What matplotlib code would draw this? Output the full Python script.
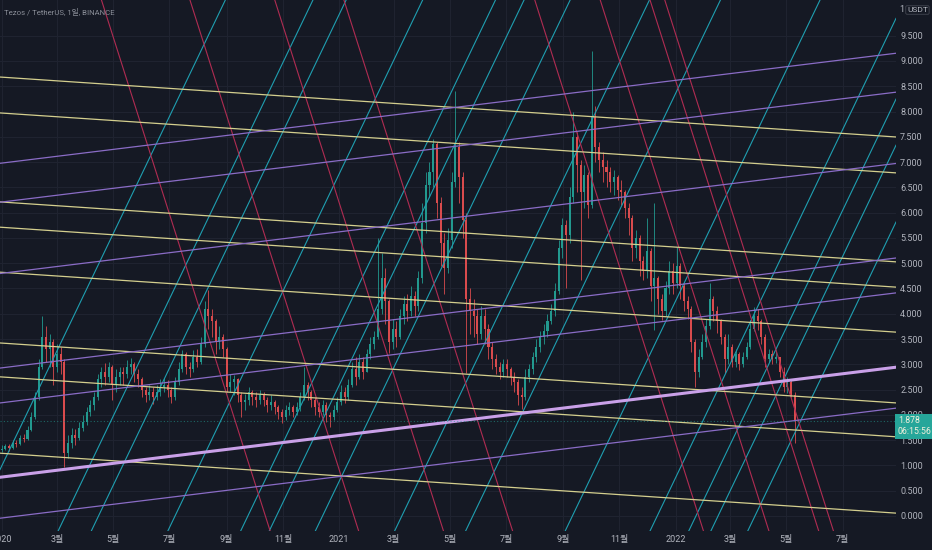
import matplotlib
matplotlib.use('Agg')
import matplotlib.pyplot as plt
import numpy as np
import pandas as pd

plt.rcParams['font.family'] = ['Roboto', 'Noto Sans CJK KR', 'DejaVu Sans']

# XTZ/USDT, 4-day candles starting 2020-01-01 (open = previous close)
first_open = 1.30
closes = [
    1.33, 1.38, 1.35, 1.45, 1.42, 1.55, 1.52, 1.70, 1.95, 2.35,
    2.95, 3.55, 3.30, 3.45, 2.95, 3.20, 3.05, 1.25, 1.45, 1.60,
    1.55, 1.75, 1.85, 2.05, 2.20, 2.35, 2.70, 2.85, 2.75, 2.95,
    2.60, 2.75, 2.85, 2.80, 2.95, 3.00, 2.80, 2.70, 2.50, 2.40,
    2.45, 2.35, 2.45, 2.55, 2.60, 2.50, 2.35, 2.65, 2.90, 3.20,
    2.95, 2.90, 3.15, 3.05, 3.40, 4.10, 3.95, 3.85, 3.45, 3.55,
    3.30, 2.55, 2.65, 2.70, 2.40, 2.25, 2.30, 2.45, 2.35, 2.30,
    2.40, 2.30, 2.20, 2.25, 2.15, 2.05, 1.95, 2.10, 2.15, 2.05,
    2.15, 2.35, 2.60, 2.45, 2.30, 2.15, 2.05, 2.20, 2.00, 1.95,
    2.10, 2.25, 2.45, 2.35, 2.60, 2.90, 2.75, 3.05, 2.85, 3.20,
    3.40, 3.55, 4.10, 4.70, 4.25, 3.45, 3.70, 3.55, 3.95, 4.20,
    4.05, 4.35, 4.15, 4.70, 5.80, 6.55, 6.80, 7.35, 6.20, 5.40,
    4.90, 5.45, 6.60, 7.30, 6.70, 5.85, 4.30, 4.05, 3.95, 3.60,
    3.95, 3.70, 3.35, 3.10, 2.95, 2.85, 3.00, 2.90, 2.75, 2.65,
    2.40, 2.35, 2.75, 2.90, 3.15, 3.35, 3.55, 3.65, 3.85, 4.05,
    4.45, 5.30, 5.75, 5.55, 6.30, 7.50, 6.95, 6.40, 6.75, 6.15,
    7.90, 7.30, 7.05, 6.90, 6.80, 6.60, 6.70, 6.45, 6.40, 6.10,
    5.90, 5.30, 5.50, 5.05, 4.85, 5.25, 4.55, 4.70, 4.30, 4.05,
    4.50, 4.85, 4.60, 4.95, 4.55, 4.25, 4.10, 3.45, 2.85, 3.15,
    3.45, 3.75, 4.30, 4.05, 3.85, 3.55, 3.10, 3.35, 3.05, 3.20,
    3.00, 3.15, 3.35, 3.70, 3.95, 3.85, 3.55, 3.10, 3.20, 3.10,
    3.15, 2.85, 2.55, 2.65, 2.40, 1.878,
]
highs = [
    1.40, 1.42, 1.42, 1.50, 1.50, 1.60, 1.62, 1.78, 2.05, 2.45,
    3.10, 3.95, 3.75, 3.60, 3.50, 3.40, 3.35, 3.10, 1.60, 1.75,
    1.72, 1.85, 2.00, 2.15, 2.30, 2.45, 2.80, 2.95, 3.02, 3.05,
    2.98, 2.90, 2.95, 2.95, 3.08, 3.12, 3.05, 2.90, 2.75, 2.55,
    2.60, 2.55, 2.60, 2.70, 2.72, 2.68, 2.55, 2.75, 3.05, 3.28,
    3.25, 3.05, 3.28, 3.30, 3.55, 4.25, 4.47, 4.10, 3.90, 3.75,
    3.60, 3.35, 2.80, 2.78, 2.72, 2.45, 2.42, 2.55, 2.50, 2.45,
    2.50, 2.45, 2.35, 2.40, 2.30, 2.20, 2.12, 2.20, 2.25, 2.20,
    2.25, 2.45, 2.95, 2.65, 2.50, 2.35, 2.25, 2.30, 2.25, 2.05,
    2.20, 2.35, 2.60, 2.55, 2.70, 3.05, 3.15, 3.20, 3.15, 3.30,
    3.55, 3.65, 5.50, 5.20, 4.90, 4.30, 3.90, 3.85, 4.10, 4.35,
    4.40, 4.55, 4.45, 4.85, 6.20, 6.80, 7.00, 7.45, 7.40, 6.30,
    5.60, 5.70, 6.80, 8.40, 7.40, 6.80, 6.00, 4.50, 4.30, 4.10,
    4.15, 4.10, 3.80, 3.45, 3.20, 3.05, 3.10, 3.10, 2.95, 2.85,
    2.70, 2.55, 2.90, 3.00, 3.25, 3.50, 3.65, 3.80, 4.00, 4.20,
    4.60, 5.45, 5.90, 5.85, 6.50, 8.00, 7.60, 7.05, 6.95, 6.80,
    9.20, 8.10, 7.40, 7.20, 7.05, 6.90, 6.85, 6.75, 6.65, 6.45,
    6.20, 5.95, 5.65, 5.55, 5.15, 5.90, 5.30, 6.20, 4.75, 4.40,
    4.65, 5.05, 5.00, 5.32, 5.00, 4.60, 4.35, 4.15, 3.50, 3.30,
    3.60, 3.90, 4.60, 4.35, 4.15, 3.90, 3.60, 3.60, 3.40, 3.30,
    3.25, 3.25, 3.45, 3.88, 4.13, 4.10, 3.90, 3.60, 3.30, 3.28,
    3.28, 3.15, 2.95, 2.75, 2.69, 2.45,
]
lows = [
    1.27, 1.30, 1.29, 1.33, 1.36, 1.40, 1.46, 1.50, 1.68, 1.92,
    2.30, 2.90, 3.05, 2.95, 2.60, 2.85, 2.80, 0.97, 1.15, 1.35,
    1.40, 1.50, 1.68, 1.80, 1.98, 2.10, 2.30, 2.55, 2.60, 2.65,
    2.30, 2.45, 2.60, 2.60, 2.72, 2.80, 2.65, 2.55, 2.35, 2.25,
    2.30, 2.22, 2.30, 2.38, 2.45, 2.35, 2.24, 2.30, 2.60, 2.85,
    2.80, 2.75, 2.85, 2.95, 3.00, 3.35, 3.70, 3.55, 3.20, 3.30,
    3.15, 2.45, 2.45, 2.40, 2.25, 1.96, 2.10, 2.20, 2.20, 2.15,
    2.22, 2.18, 2.05, 2.10, 2.02, 1.92, 1.84, 1.90, 2.00, 1.95,
    2.00, 2.08, 2.30, 2.30, 2.15, 2.00, 1.95, 2.00, 1.85, 1.76,
    1.90, 2.05, 2.20, 2.24, 2.30, 2.55, 2.60, 2.70, 2.70, 2.85,
    3.10, 3.30, 3.50, 4.00, 3.80, 3.22, 3.30, 3.35, 3.50, 3.80,
    3.85, 3.95, 3.95, 4.05, 4.60, 5.60, 6.30, 6.50, 5.90, 4.95,
    4.40, 4.80, 5.30, 6.50, 6.20, 5.50, 2.83, 3.60, 3.55, 3.40,
    3.50, 3.40, 3.10, 2.90, 2.80, 2.70, 2.75, 2.75, 2.60, 2.45,
    2.20, 2.12, 2.30, 2.65, 2.80, 3.05, 3.25, 3.40, 3.55, 3.80,
    3.95, 4.40, 5.10, 4.50, 5.40, 6.20, 6.40, 4.67, 6.10, 5.90,
    6.10, 7.00, 6.80, 6.60, 6.50, 6.40, 6.35, 6.25, 6.15, 5.90,
    5.55, 5.05, 5.10, 4.75, 4.67, 4.70, 4.25, 3.68, 4.00, 3.88,
    3.95, 4.40, 4.40, 4.50, 4.30, 4.05, 3.90, 3.25, 2.55, 2.75,
    3.10, 3.35, 3.70, 3.85, 3.62, 3.40, 2.83, 3.00, 2.95, 2.95,
    2.89, 2.95, 3.10, 3.30, 3.65, 3.68, 3.40, 2.95, 3.05, 3.00,
    3.03, 2.75, 2.45, 2.43, 2.35, 1.44,
]
candle_step_days = 4
last_price = 1.878
countdown = '06:15:56'

# drawn lines: each family is parallel, slope in USDT per day
cyan_slope = 0.0380
cyan_zero_dates = ['2019-12-06', '2020-03-10', '2020-04-15', '2020-07-07',
                   '2020-09-24', '2020-10-25', '2020-12-14', '2021-03-10',
                   '2021-05-26', '2021-09-11', '2021-12-12', '2022-01-23',
                   '2022-02-16', '2022-03-28']
red_slope = -0.0574
red_zero_dates = ['2020-10-13', '2021-01-17', '2021-04-19', '2021-07-03',
                  '2022-01-26', '2022-04-07', '2022-05-31', '2022-06-16']
yellow_slope = -0.00122
yellow_at_start = [8.68, 7.97, 6.21, 5.71, 4.82, 3.42, 2.75, 1.24]
purple_slope = 0.00224
purple_at_start = [6.98, 6.21, 4.80, 2.93, 2.24, -0.04]
main_trend_at_start = 0.77

tick_dates = ['2020-01-01', '2020-03-01', '2020-05-01', '2020-07-01', '2020-09-01',
              '2020-11-01', '2021-01-01', '2021-03-01', '2021-05-01', '2021-07-01',
              '2021-09-01', '2021-11-01', '2022-01-01', '2022-03-01', '2022-05-01',
              '2022-07-01']
tick_labels = ['2020', '3월', '5월', '7월', '9월', '11월', '2021', '3월', '5월', '7월',
               '9월', '11월', '2022', '3월', '5월', '7월']
price_ticks = [i * 0.5 for i in range(20)]

BG = '#151924'
GRID = '#1f2330'
TXT = '#b2b5be'
UP = '#22998f'
DOWN = '#d94b4d'

base = pd.Timestamp('2020-01-01')


def day_of(s):
    return (pd.Timestamp(s) - base).days


fig = plt.figure(figsize=(9.32, 5.5), dpi=100, facecolor=BG)
ax = fig.add_axes([0, 19 / 550, 896 / 932, 531 / 550], facecolor=BG)

n = len(closes)
x = np.arange(n) * candle_step_days
c = np.array(closes)
o = np.concatenate([[first_open], c[:-1]])
h = np.array(highs)
lo = np.array(lows)
up = c >= o
cols = np.where(up, UP, DOWN)

ax.vlines(x, lo, h, colors=cols, lw=0.6, zorder=2)
body = np.where(np.abs(c - o) < 0.02, 0.02, c - o)
ax.bar(x, body, bottom=o, width=2.2, color=cols, linewidth=0, zorder=3)

# grid
for d in tick_dates:
    ax.axvline(day_of(d), color=GRID, lw=0.8, zorder=0)
for p in price_ticks:
    ax.axhline(p, color=GRID, lw=0.8, zorder=0)

# drawings
for d in cyan_zero_dates:
    ax.axline((day_of(d), 0.0), slope=cyan_slope, color='#1f9fb1', lw=0.8, zorder=4)
for d in red_zero_dates:
    ax.axline((day_of(d), 0.0), slope=red_slope, color='#b02c52', lw=0.8, zorder=4)
for p in yellow_at_start:
    ax.axline((0.0, p), slope=yellow_slope, color='#d4cf8e', lw=0.9, zorder=4)
for p in purple_at_start:
    ax.axline((0.0, p), slope=purple_slope, color='#8a6cc6', lw=0.9, zorder=4)
ax.axline((0.0, main_trend_at_start), slope=purple_slope, color='#c9a0e8', lw=2.2, zorder=4)

# last price line and label
ax.axhline(last_price, color=UP, lw=0.8, ls=(0, (1, 2)), alpha=0.6, zorder=5)
ax.text(1.002, last_price - 0.1, f'{last_price:.3f}\n{countdown}',
        transform=ax.get_yaxis_transform(),
        ha='left', va='center', fontsize=6.3, color='#f2f0dc', linespacing=1.25,
        bbox=dict(boxstyle='square,pad=0.3', fc='#26a69a', ec='none'), clip_on=False, zorder=10)

ax.set_xlim(-1.84, 970)
ax.set_ylim(-0.297, 10.206)

ax.set_xticks([day_of(d) for d in tick_dates])
ax.set_xticklabels(tick_labels)
ax.set_yticks(price_ticks)
ax.set_yticklabels([f'{p:.3f}' for p in price_ticks])
ax.yaxis.tick_right()
ax.tick_params(axis='both', length=0, colors=TXT, labelsize=6.5)
ax.tick_params(axis='y', pad=3)
ax.tick_params(axis='x', pad=3)
for s in ax.spines.values():
    s.set_visible(False)

fig.text(4 / 932, 1 - 12 / 550, 'Tezos / TetherUS, 1일, BINANCE', fontsize=5.6,
         color='#8a8e98', va='center', ha='left')
fig.text(904 / 932, 1 - 10 / 550, '1', fontsize=6.5, color=TXT, va='center', ha='right')
fig.text(907 / 932, 1 - 10 / 550, 'USDT', fontsize=6.0, color=TXT, va='center', ha='left',
         bbox=dict(boxstyle='round,pad=0.15', fc=BG, ec='#434651', lw=0.6))

fig.savefig('out.png', dpi=100, facecolor=BG)
